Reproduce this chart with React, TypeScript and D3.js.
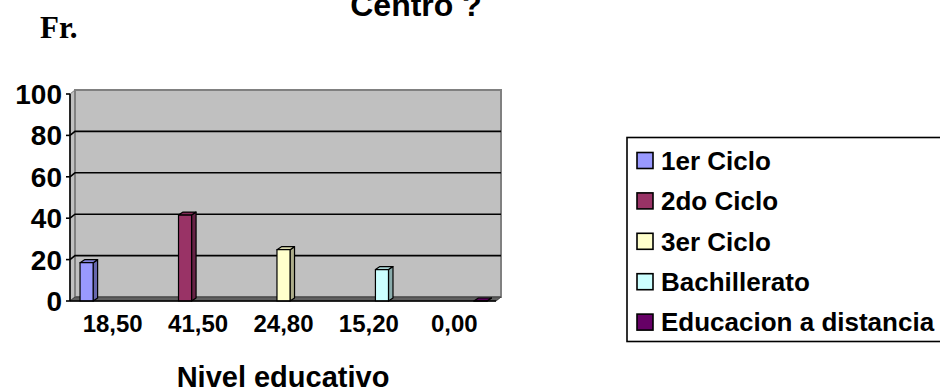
import React from "react";
import * as d3 from "d3";

const categories = ["18,50", "41,50", "24,80", "15,20", "0,00"];
const seriesNames = ["1er Ciclo", "2do Ciclo", "3er Ciclo", "Bachillerato", "Educacion a distancia"];
const seriesColors = ["#9999FF", "#993366", "#FFFFCC", "#CCFFFF", "#660066"];
const values = [18.5, 41.5, 24.8, 15.2, 0.0];
const yTicks = [0, 20, 40, 60, 80, 100];
const titleText = "Centro ?";
const yAxisTitle = "Fr.";
const xAxisTitle = "Nivel educativo";

const W = 940;
const H = 392;
const DX = 5;
const DY = -4;
const BDX = 4.5;
const BDY = -3;

export default function App() {
  const x0 = d3.scaleBand<string>().domain(categories).range([70, 497]).paddingInner(0).paddingOuter(0);
  const x1 = d3
    .scaleBand<string>()
    .domain(seriesNames)
    .range([0, x0.bandwidth()])
    .paddingInner(0)
    .paddingOuter(0.77);
  const y = d3.scaleLinear().domain([0, 100]).range([301, 94]);

  const left = 70;
  const right = 496;
  const yb = y(0);
  const yt = y(100);

  const bars = categories.map((c, i) => {
    const v = values[i];
    const s = seriesNames[i];
    const bx = (x0(c) as number) + (x1(s) as number);
    const bw = x1.bandwidth();
    const top = y(v);
    const col = d3.color(seriesColors[i])!;
    const side = col.darker(1.1).formatHex();
    const topc = col.darker(0.45).formatHex();
    const front = `M${bx},${yb}L${bx},${top}L${bx + bw},${top}L${bx + bw},${yb}Z`;
    const sidePath = `M${bx + bw},${yb}L${bx + bw},${top}L${bx + bw + BDX},${top + BDY}L${bx + bw + BDX},${yb + BDY}Z`;
    const topPath = `M${bx},${top}L${bx + BDX},${top + BDY}L${bx + bw + BDX},${top + BDY}L${bx + bw},${top}Z`;
    return (
      <g key={c} stroke="#000" strokeWidth={1.2} strokeLinejoin="round">
        <path d={sidePath} fill={side} />
        <path d={topPath} fill={topc} />
        <path d={front} fill={seriesColors[i]} />
      </g>
    );
  });

  const legendX = 627;
  const legendTop = 137.5;
  const legendStep = 40.4;
  const legendFirst = 160.5;

  return (
    <svg
      width={W}
      height={H}
      style={{ position: "absolute", left: 0, top: 0, background: "#fff" }}
      fontFamily="'Liberation Sans', Arial, sans-serif"
    >
      {/* title */}
      <text x={416} y={16} textAnchor="middle" fontSize={32} fontWeight="bold" fill="#000">
        {titleText}
      </text>
      <text x={40} y={38} fontSize={31} fontWeight="bold" fontFamily="'Liberation Serif', 'Times New Roman', serif" fill="#000">
        {yAxisTitle}
      </text>

      {/* side wall */}
      <path
        d={`M${left},${yb}L${left},${yt}L${left + DX},${yt + DY}L${left + DX},${yb + DY}Z`}
        fill="#C0C0C0"
        stroke="#808080"
        strokeWidth={1}
      />
      {/* back wall */}
      <rect
        x={left + DX}
        y={yt + DY}
        width={right - left}
        height={yb - yt}
        fill="#C0C0C0"
        stroke="#808080"
        strokeWidth={2}
      />
      {/* gridlines */}
      {yTicks
        .filter((t) => t > 0 && t < 100)
        .map((t) => (
          <path
            key={t}
            d={`M${left},${y(t)}L${left + DX},${y(t) + DY}L${right + DX},${y(t) + DY}`}
            fill="none"
            stroke="#000"
            strokeWidth={1.6}
          />
        ))}
      {/* floor */}
      <path
        d={`M${left},${yb}L${left + DX},${yb + DY}L${right + DX},${yb + DY}L${right},${yb}Z`}
        fill="#606060"
        stroke="#404040"
        strokeWidth={1}
      />

      {bars}

      {/* axes */}
      <line x1={left} y1={yt} x2={left} y2={yb} stroke="#000" strokeWidth={1.6} />
      <line x1={left} y1={yb} x2={right} y2={yb} stroke="#000" strokeWidth={1.6} />
      {yTicks.map((t) => (
        <g key={t}>
          <line x1={left - 4} x2={left} y1={y(t)} y2={y(t)} stroke="#000" strokeWidth={1.6} />
          <text x={62} y={y(t)} dy="0.36em" textAnchor="end" fontSize={28} fontWeight="bold" fill="#000">
            {t}
          </text>
        </g>
      ))}
      {categories.map((c) => (
        <text
          key={c}
          x={(x0(c) as number) + x0.bandwidth() / 2}
          y={331.5}
          textAnchor="middle"
          fontSize={24}
          fontWeight="bold"
          fill="#000"
        >
          {c}
        </text>
      ))}
      <text x={283} y={386.5} textAnchor="middle" fontSize={29} fontWeight="bold" fill="#000">
        {xAxisTitle}
      </text>

      {/* legend */}
      <rect x={legendX} y={legendTop} width={330} height={204} fill="#fff" stroke="#000" strokeWidth={1.6} />
      {seriesNames.map((s, i) => {
        const cy = legendFirst + i * legendStep;
        return (
          <g key={s}>
            <rect x={637} y={cy - 8} width={16} height={16} fill={seriesColors[i]} stroke="#000" strokeWidth={1.6} />
            <text x={661} y={cy} dy="0.36em" fontSize={26} fontWeight="bold" fill="#000">
              {s}
            </text>
          </g>
        );
      })}
    </svg>
  );
}
